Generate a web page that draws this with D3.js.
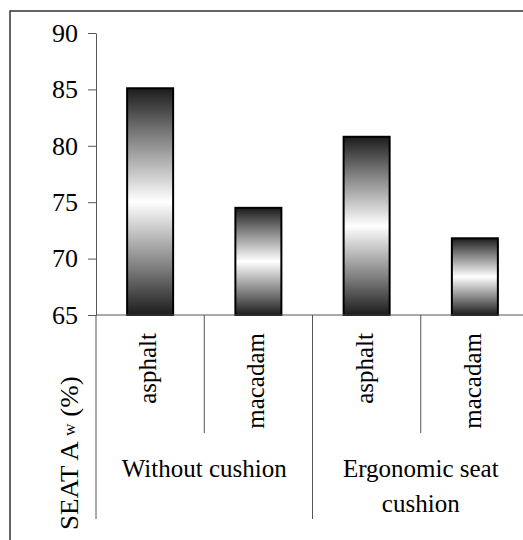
<!DOCTYPE html>
<html>
<head>
<meta charset="utf-8">
<script src="https://cdn.jsdelivr.net/npm/d3@7"></script>
</head>
<body style="margin:0">
<svg id="chart" width="523" height="540" font-family="Liberation Serif, serif"></svg>
<script>
// Seat comfort score per road surface, with and without the ergonomic cushion
const groups = ["Without cushion", "Ergonomic seat cushion"];
const surfaces = ["asphalt", "macadam"];
const categories = ["Without cushion|asphalt", "Without cushion|macadam",
                    "Ergonomic seat cushion|asphalt", "Ergonomic seat cushion|macadam"];
const values = [85.1, 74.5, 80.8, 71.8];
const yTicks = [65, 70, 75, 80, 85, 90];

const FONT = "'Liberation Serif'";
const svg = d3.select("#chart");
const W = 523, H = 540;
const plot = { left: 96, right: 529, top: 33, bottom: 315 };

const x = d3.scaleBand()
  .domain(categories)
  .range([plot.left, plot.right])
  .paddingInner(0.575)
  .paddingOuter(0.2875);

const y = d3.scaleLinear()
  .domain([65, 90])
  .range([plot.bottom, plot.top]);

// vertical shading: dark at both ends, white in the middle
const defs = svg.append("defs");
const grad = defs.append("linearGradient")
  .attr("id", "barShade")
  .attr("x1", 0).attr("y1", 0).attr("x2", 0).attr("y2", 1);
[[0, "#1c1c1c"], [0.2, "#7a7a7a"], [0.5, "#ffffff"], [0.8, "#7a7a7a"], [1, "#1c1c1c"]]
  .forEach(([o, c]) => grad.append("stop").attr("offset", o).attr("stop-color", c));

// outer frame (left and top edges)
svg.append("path")
  .attr("d", `M10,${H} L10,11 L${W},11`)
  .attr("fill", "none")
  .attr("stroke", "#333")
  .attr("stroke-width", 1.5);

// bars
svg.append("g").selectAll("rect")
  .data(values)
  .join("rect")
  .attr("x", (d, i) => x(categories[i]))
  .attr("width", x.bandwidth())
  .attr("y", d => y(d))
  .attr("height", d => y(65) - y(d))
  .attr("fill", "url(#barShade)")
  .attr("stroke", "#000")
  .attr("stroke-width", 2);

// y axis
const yAxis = svg.append("g")
  .attr("transform", `translate(${plot.left},0)`)
  .call(d3.axisLeft(y).tickValues(yTicks).tickSize(8).tickPadding(10).tickSizeOuter(0));
yAxis.attr("font-family", null).attr("font-size", null);
yAxis.select(".domain").attr("stroke", "#555");
yAxis.selectAll(".tick line").attr("stroke", "#555");
yAxis.selectAll(".tick text")
  .style("font-family", FONT)
  .attr("font-size", 26)
  .attr("fill", "#000");

// x axis baseline
svg.append("line")
  .attr("x1", plot.left).attr("x2", W)
  .attr("y1", y(65)).attr("y2", y(65))
  .attr("stroke", "#555");

// category separators below the axis: long ones between groups, short ones within
const step = x.step();
d3.range(categories.length + 1).forEach(i => {
  const xx = plot.left + i * step;
  svg.append("line")
    .attr("x1", xx).attr("x2", xx)
    .attr("y1", y(65)).attr("y2", i % 2 === 0 ? 519 : 433)
    .attr("stroke", "#555");
});

// rotated surface labels
svg.append("g").selectAll("text")
  .data(categories)
  .join("text")
  .attr("transform", d => `translate(${x(d) + x.bandwidth() / 2 + 6},333) rotate(-90)`)
  .attr("text-anchor", "end")
  .style("font-family", FONT)
  .attr("font-size", 25)
  .text(d => d.split("|")[1]);

// group labels
const groupCenter = gi => plot.left + (gi * 2 + 1) * step;
svg.append("text")
  .attr("x", groupCenter(0)).attr("y", 477)
  .attr("text-anchor", "middle")
  .style("font-family", FONT)
  .attr("font-size", 25)
  .text(groups[0]);
const g2 = svg.append("text")
  .attr("x", groupCenter(1)).attr("y", 477)
  .attr("text-anchor", "middle")
  .style("font-family", FONT)
  .attr("font-size", 25);
g2.append("tspan").attr("x", groupCenter(1)).text("Ergonomic seat");
g2.append("tspan").attr("x", groupCenter(1)).attr("dy", 35).text("cushion");

// y axis title with small w
const yt = svg.append("text")
  .attr("transform", "translate(78,530) rotate(-90) scale(1.08,1)")
  .attr("text-anchor", "start")
  .style("font-family", FONT)
  .attr("font-size", 25);
yt.append("tspan").text("SEAT A ");
yt.append("tspan").attr("font-size", 16).attr("dy", -3).text("w");
yt.append("tspan").attr("dy", 3).text(" (%)");
</script>
</body>
</html>
